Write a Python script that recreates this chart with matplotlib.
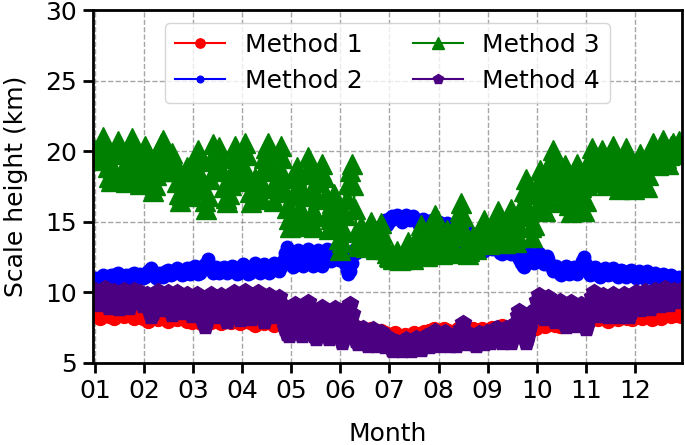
#!/usr/bin/env python

# Scale height from four methods over one year

import numpy as np
import matplotlib
matplotlib.use("Agg")
import matplotlib.pyplot as plt
import matplotlib.lines as mlines

# day of year of the samples: method 1 every 3 days, the others daily
days_3 = np.arange(0, 364, 3)
days_1 = np.arange(0, 365)

month_labels = ['01', '02', '03', '04', '05', '06', '07', '08', '09', '10', '11', '12']

method1 = [8.4, 8.2, 8.5, 8.3, 8.2, 8.4, 8.3, 8.5, 8.2, 8.3,
           8.2, 8.0, 8.3, 8.1, 8.2, 8.0, 8.3, 8.1, 8.2, 8.0,
           7.9, 8.1, 7.8, 8.0, 7.9, 8.1, 7.8, 8.0, 7.9, 8.1,
           7.8, 8.0, 7.9, 7.7, 8.0, 7.8, 7.9, 7.7, 7.9, 7.8,
           7.7, 7.9, 7.6, 7.8, 7.7, 7.6, 7.8, 7.6, 7.7, 7.5,
           7.6, 7.4, 7.6, 7.5, 7.3, 7.5, 7.3, 7.4, 7.2, 7.3,
           7.1, 6.9, 7.1, 6.8, 7.0, 6.9, 7.1, 7.0, 7.2, 7.3,
           7.4, 7.2, 7.4, 7.3, 7.1, 7.4, 7.5, 7.3, 7.4, 7.2,
           7.4, 7.3, 7.5, 7.4, 7.6, 7.4, 7.5, 7.6, 7.4, 7.5,
           7.6, 7.5, 7.7, 7.6, 7.8, 7.7, 7.6, 7.8, 7.7, 7.8,
           7.9, 7.8, 8.0, 8.2, 8.1, 8.3, 8.0, 8.2, 8.1, 8.3,
           8.2, 8.1, 8.3, 8.2, 8.4, 8.1, 8.3, 8.2, 8.4, 8.3,
           8.4, 8.3]

method2 = [11.0, 10.8, 10.7, 10.9, 11.1, 11.2, 11.0, 10.8, 10.9, 11.1,
           11.2, 11.0, 11.1, 11.3, 11.4, 11.2, 10.9, 10.8, 11.0, 11.2,
           11.1, 10.9, 11.0, 11.3, 11.4, 11.2, 11.0, 11.1, 11.3, 11.2,
           11.0, 11.1, 11.3, 11.5, 11.6, 11.7, 11.5, 11.2, 11.0, 11.2,
           11.4, 11.3, 11.1, 11.2, 11.5, 11.6, 11.4, 11.2, 11.3, 11.5,
           11.6, 11.7, 11.6, 11.4, 11.2, 11.3, 11.5, 11.7, 11.5, 11.3,
           11.5, 11.8, 11.9, 11.6, 11.3, 11.4, 11.7, 11.9, 12.0, 11.8,
           12.4, 11.9, 11.6, 11.4, 11.6, 11.8, 11.6, 11.4, 11.5, 11.7,
           11.8, 11.6, 11.4, 11.5, 11.7, 11.9, 11.8, 11.5, 11.3, 11.4,
           11.6, 11.8, 12.0, 11.8, 11.5, 11.3, 11.4, 11.7, 11.9, 12.1,
           11.9, 11.6, 11.4, 11.5, 11.8, 12.0, 11.8, 11.5, 11.4, 11.6,
           11.9, 12.1, 11.9, 11.6, 11.5, 11.8, 12.1, 12.4, 12.8, 13.2,
           12.9, 12.4, 12.0, 11.8, 12.2, 12.7, 13.0, 12.6, 12.1, 11.9,
           12.3, 12.8, 13.1, 12.7, 12.2, 11.9, 12.1, 12.6, 13.0, 12.6,
           12.1, 11.9, 12.3, 12.9, 13.1, 12.6, 12.2, 12.5, 12.9, 13.1,
           12.7, 12.3, 12.6, 13.0, 12.5, 12.0, 11.6, 11.3, 11.5, 12.1,
           12.7, 13.1, 12.8, 13.2, 13.5, 13.3, 13.0, 13.4, 13.8, 14.0,
           13.7, 13.5, 13.9, 14.2, 14.0, 14.3, 14.6, 14.4, 14.7, 14.9,
           15.1, 14.8, 15.0, 15.3, 15.4, 15.2, 15.3, 15.5, 15.4, 15.2,
           15.0, 15.2, 15.4, 15.5, 15.3, 15.1, 15.2, 15.4, 15.3, 15.1,
           15.0, 14.8, 15.0, 15.2, 15.1, 14.9, 14.7, 14.8, 15.0, 15.1,
           14.9, 14.6, 14.8, 15.0, 14.8, 14.5, 14.3, 14.6, 14.9, 14.7,
           14.4, 14.2, 14.5, 14.8, 14.6, 14.2, 13.6, 13.0, 12.6, 12.5,
           13.0, 13.6, 14.0, 14.2, 13.8, 13.5, 13.7, 14.0, 13.6, 13.2,
           13.0, 12.9, 13.1, 13.5, 13.7, 13.4, 13.1, 13.3, 13.6, 13.4,
           13.0, 12.8, 12.7, 12.9, 13.2, 13.4, 13.1, 12.8, 12.7, 13.0,
           13.2, 12.9, 12.6, 12.4, 12.1, 11.9, 11.8, 12.0, 12.5, 12.8,
           12.6, 12.3, 12.1, 12.4, 12.7, 12.8, 12.5, 12.2, 12.0, 12.3,
           12.6, 12.4, 12.0, 11.7, 11.5, 11.7, 11.9, 11.6, 11.3, 11.2,
           11.4, 11.7, 11.9, 11.6, 11.3, 11.4, 11.7, 11.8, 11.5, 11.3,
           11.6, 11.9, 12.2, 12.5, 12.0, 11.6, 11.4, 11.2, 11.3, 11.6,
           11.8, 11.5, 11.2, 11.1, 11.3, 11.6, 11.7, 11.4, 11.2, 11.3,
           11.6, 11.7, 11.5, 11.2, 11.1, 11.3, 11.6, 11.5, 11.2, 11.1,
           11.3, 11.5, 11.6, 11.4, 11.2, 11.0, 11.2, 11.5, 11.4, 11.1,
           11.0, 11.2, 11.5, 11.3, 11.1, 11.0, 11.3, 11.4, 11.2, 11.0,
           10.9, 11.1, 11.3, 11.2, 10.9, 10.8, 11.0, 11.2, 11.1, 10.9,
           10.8, 10.9, 11.1, 11.0, 10.8]

method3 = [20.1, 19.7, 19.4, 19.9, 20.6, 21.0, 20.5, 20.0, 18.9, 18.2,
           17.9, 18.8, 19.8, 20.3, 20.7, 20.4, 19.8, 18.6, 18.1, 17.8,
           18.7, 19.6, 20.3, 20.9, 20.5, 19.9, 18.8, 18.1, 17.7, 18.6,
           19.7, 20.4, 20.0, 19.3, 18.5, 17.8, 17.2, 17.6, 18.3, 19.1,
           19.8, 20.5, 20.8, 20.2, 19.6, 19.0, 18.6, 19.2, 19.9, 19.4,
           18.6, 17.8, 17.0, 16.5, 16.9, 17.6, 18.3, 18.9, 18.2, 17.4,
           16.8, 17.5, 18.6, 19.6, 20.1, 19.3, 18.2, 17.3, 16.5, 15.9,
           16.8, 18.0, 19.4, 20.5, 19.8, 18.9, 19.6, 20.3, 19.7, 18.6,
           17.5, 16.7, 16.4, 17.0, 17.6, 18.5, 19.5, 20.4, 19.8, 18.7,
           17.9, 18.8, 19.8, 20.6, 19.7, 18.3, 17.1, 16.4, 17.2, 18.1,
           17.3, 16.6, 16.9, 17.8, 18.7, 19.5, 20.2, 20.6, 19.9, 18.6,
           17.4, 16.5, 17.6, 18.8, 19.9, 20.4, 19.5, 18.2, 17.1, 16.0,
           15.2, 14.6, 15.6, 16.9, 18.1, 18.9, 17.5, 16.0, 14.7, 15.3,
           16.8, 18.4, 19.6, 18.7, 17.2, 15.8, 14.6, 15.4, 16.6, 17.8,
           18.6, 19.1, 18.2, 16.9, 15.5, 14.5, 15.2, 16.3, 17.0, 16.1,
           14.9, 13.8, 13.0, 13.6, 14.5, 15.5, 16.6, 17.7, 18.6, 19.1,
           17.6, 15.9, 14.3, 13.3, 13.9, 14.7, 14.2, 13.4, 13.2, 13.9,
           14.6, 15.0, 14.1, 13.3, 13.1, 13.8, 14.5, 14.9, 14.2, 13.5,
           13.1, 12.8, 12.6, 12.5, 12.8, 12.4, 12.6, 12.9, 12.5, 12.3,
           12.6, 12.4, 12.7, 13.2, 13.6, 13.1, 12.6, 12.4, 12.8, 13.2,
           13.7, 14.2, 14.8, 14.3, 13.5, 12.9, 12.6, 13.1, 13.8, 14.4,
           14.9, 15.5, 14.7, 13.8, 13.0, 12.7, 13.2, 13.9, 14.4, 13.8,
           13.1, 12.8, 13.3, 14.0, 14.6, 15.2, 15.8, 16.3, 15.4, 14.2,
           13.2, 12.7, 12.9, 13.5, 14.0, 13.6, 13.1, 13.4, 13.9, 14.3,
           14.7, 15.1, 14.6, 14.0, 13.4, 13.6, 14.1, 14.5, 15.0, 15.5,
           15.8, 15.2, 14.5, 13.8, 13.5, 14.2, 15.0, 15.6, 15.9, 15.1,
           14.3, 13.6, 13.9, 14.6, 15.4, 16.3, 17.2, 18.0, 17.1, 15.8,
           14.6, 13.9, 14.8, 15.9, 17.0, 17.9, 18.7, 18.0, 16.9, 15.8,
           16.6, 17.6, 18.7, 19.5, 20.1, 19.4, 18.3, 17.2, 16.4, 17.2,
           18.1, 19.0, 18.3, 17.2, 16.2, 15.7, 16.5, 17.6, 18.5, 19.1,
           18.4, 17.5, 16.6, 15.8, 16.5, 17.6, 18.6, 19.5, 20.2, 19.3,
           18.4, 17.8, 18.6, 19.4, 20.1, 19.2, 18.3, 17.6, 18.4, 19.3,
           20.0, 20.4, 19.6, 18.7, 17.9, 17.3, 18.0, 18.9, 19.7, 20.2,
           19.6, 18.9, 18.3, 17.7, 17.3, 17.9, 18.6, 19.3, 19.8, 19.2,
           18.4, 17.7, 17.5, 18.3, 19.3, 20.1, 20.6, 20.1, 19.5, 19.0,
           19.6, 20.3, 20.8, 20.2, 19.5, 19.1, 19.7, 20.4, 20.6, 20.1,
           19.8, 20.3, 20.7, 20.2, 19.9]

method4 = [10.2, 9.9, 9.5, 9.2, 9.6, 10.1, 10.3, 9.8, 9.3, 9.0,
           9.2, 9.7, 10.1, 9.6, 9.0, 8.9, 9.4, 9.9, 10.2, 9.7,
           9.2, 9.0, 9.5, 10.0, 10.2, 9.8, 9.3, 9.6, 10.0, 9.6,
           9.1, 9.5, 9.9, 9.4, 8.8, 8.3, 8.6, 9.3, 9.8, 10.1,
           9.7, 9.1, 8.8, 9.3, 9.9, 10.0, 9.5, 8.9, 8.5, 9.0,
           9.6, 10.0, 9.6, 9.0, 8.6, 8.9, 9.5, 9.9, 9.4, 8.8,
           8.4, 8.9, 9.5, 9.9, 9.4, 8.8, 8.3, 8.0, 7.6, 8.2,
           8.9, 9.6, 9.9, 9.4, 8.8, 8.3, 8.7, 9.3, 9.8, 9.3,
           8.7, 8.2, 8.0, 8.5, 9.1, 9.6, 10.0, 9.5, 8.9, 8.4,
           8.1, 8.7, 9.4, 10.1, 9.6, 9.0, 8.5, 8.2, 8.7, 9.3,
           9.8, 10.0, 9.5, 8.8, 8.3, 8.0, 8.5, 9.2, 9.8, 9.4,
           8.8, 8.3, 8.6, 9.3, 9.7, 9.2, 8.6, 8.0, 7.5, 7.1,
           7.0, 7.5, 8.2, 8.9, 9.2, 8.7, 8.0, 7.4, 7.0, 7.4,
           8.1, 8.8, 9.3, 8.9, 8.2, 7.5, 7.0, 6.8, 7.3, 8.0,
           8.6, 9.0, 8.5, 7.8, 7.2, 6.8, 7.2, 7.9, 8.6, 8.9,
           8.3, 7.5, 6.9, 6.5, 6.8, 7.6, 8.4, 9.0, 9.2, 8.5,
           7.7, 7.0, 6.6, 6.4, 6.8, 7.3, 7.5, 7.1, 6.6, 6.3,
           6.5, 7.0, 7.4, 7.0, 6.5, 6.3, 6.7, 7.2, 6.8, 6.4,
           6.2, 6.5, 6.8, 6.4, 6.0, 5.9, 6.2, 6.5, 6.3, 6.0,
           5.9, 6.1, 6.5, 6.7, 6.4, 6.1, 5.9, 6.2, 6.6, 6.8,
           6.5, 6.2, 6.0, 6.3, 6.7, 6.9, 6.5, 6.2, 6.4, 6.8,
           7.1, 7.3, 6.9, 6.5, 6.3, 6.6, 7.0, 7.2, 6.8, 6.4,
           6.3, 6.6, 6.9, 6.6, 6.3, 6.5, 7.0, 7.4, 7.8, 7.2,
           6.7, 6.4, 6.6, 7.0, 6.8, 6.4, 6.3, 6.7, 7.1, 6.8,
           6.5, 6.4, 6.8, 7.2, 6.9, 6.5, 6.6, 7.0, 7.4, 7.5,
           7.1, 6.7, 6.5, 6.9, 7.3, 7.5, 7.1, 6.7, 6.5, 6.9,
           7.4, 7.8, 8.3, 8.7, 8.2, 7.5, 6.9, 6.5, 6.8, 7.4,
           8.1, 8.6, 8.3, 8.8, 9.4, 9.8, 9.3, 8.7, 8.2, 8.6,
           9.2, 9.7, 9.3, 8.7, 8.2, 8.0, 8.5, 9.1, 9.4, 8.9,
           8.3, 7.8, 7.6, 8.2, 8.9, 9.3, 8.8, 8.2, 7.7, 8.1,
           8.7, 9.2, 8.6, 8.0, 7.5, 7.8, 8.5, 9.2, 9.7, 10.0,
           9.5, 8.9, 8.4, 8.8, 9.4, 9.8, 9.3, 8.7, 8.3, 8.8,
           9.5, 9.9, 9.6, 9.0, 8.5, 8.3, 8.9, 9.5, 9.9, 9.4,
           8.8, 8.3, 8.7, 9.3, 9.8, 10.0, 9.5, 9.0, 8.8, 9.3,
           9.8, 10.1, 9.7, 9.2, 8.9, 9.4, 9.9, 10.2, 9.8, 9.3,
           9.1, 9.5, 10.0, 10.3, 9.9, 9.4, 9.2, 9.6, 10.1, 10.2,
           9.8, 9.4, 9.7, 10.2, 10.0]


def generate_graph():
    """Draw the four scale height series and save as out.png"""
    fig = plt.figure(figsize=(6.85, 4.45), dpi=100)
    ax = fig.add_axes([93/685, 1 - 363/445, (682 - 93)/685, (363 - 10)/445])

    # months as evenly spaced units
    month_len = 365.0 / 12.0
    x3 = days_3 / month_len
    x1 = days_1 / month_len

    ax.plot(x3, method1, color='red', marker='o', markersize=10, lw=1.5)
    ax.plot(x1, method2, color='blue', marker='o', markersize=9, lw=1.5)
    ax.plot(x1, method3, color='green', marker='^', markersize=14, lw=2)
    ax.plot(x1, method4, color='indigo', marker='p', markersize=12, lw=1.5)

    ax.set_xlim(-0.04, 11.96)
    ax.set_ylim(5, 30)
    ax.set_xticks(np.arange(12))
    ax.set_xticklabels(month_labels)
    ax.set_yticks(np.arange(5, 31, 5))
    ax.tick_params(labelsize=18, length=7, width=2, pad=4.5)
    for sp in ax.spines.values():
        sp.set_linewidth(2)
    ax.grid(True, linestyle='--', color='gray', alpha=0.7, lw=1)

    ax.set_xlabel('Month', fontsize=18, labelpad=14)
    ax.set_ylabel('Scale height (km)', fontsize=18, labelpad=12)

    # legend markers are smaller than the plotted ones
    handles = [
        mlines.Line2D([], [], color='red', marker='o', markersize=6.7, lw=1.5, label='Method 1'),
        mlines.Line2D([], [], color='blue', marker='o', markersize=4.8, lw=1.5, label='Method 2'),
        mlines.Line2D([], [], color='green', marker='^', markersize=8, lw=1.5, label='Method 3'),
        mlines.Line2D([], [], color='indigo', marker='p', markersize=7.2, lw=1.5, label='Method 4'),
    ]
    ax.legend(handles=handles, loc='upper center', ncol=2, fontsize=18)

    fig.savefig('out.png', dpi=100)


def main():
    generate_graph()


if __name__ == "__main__":
    main()
